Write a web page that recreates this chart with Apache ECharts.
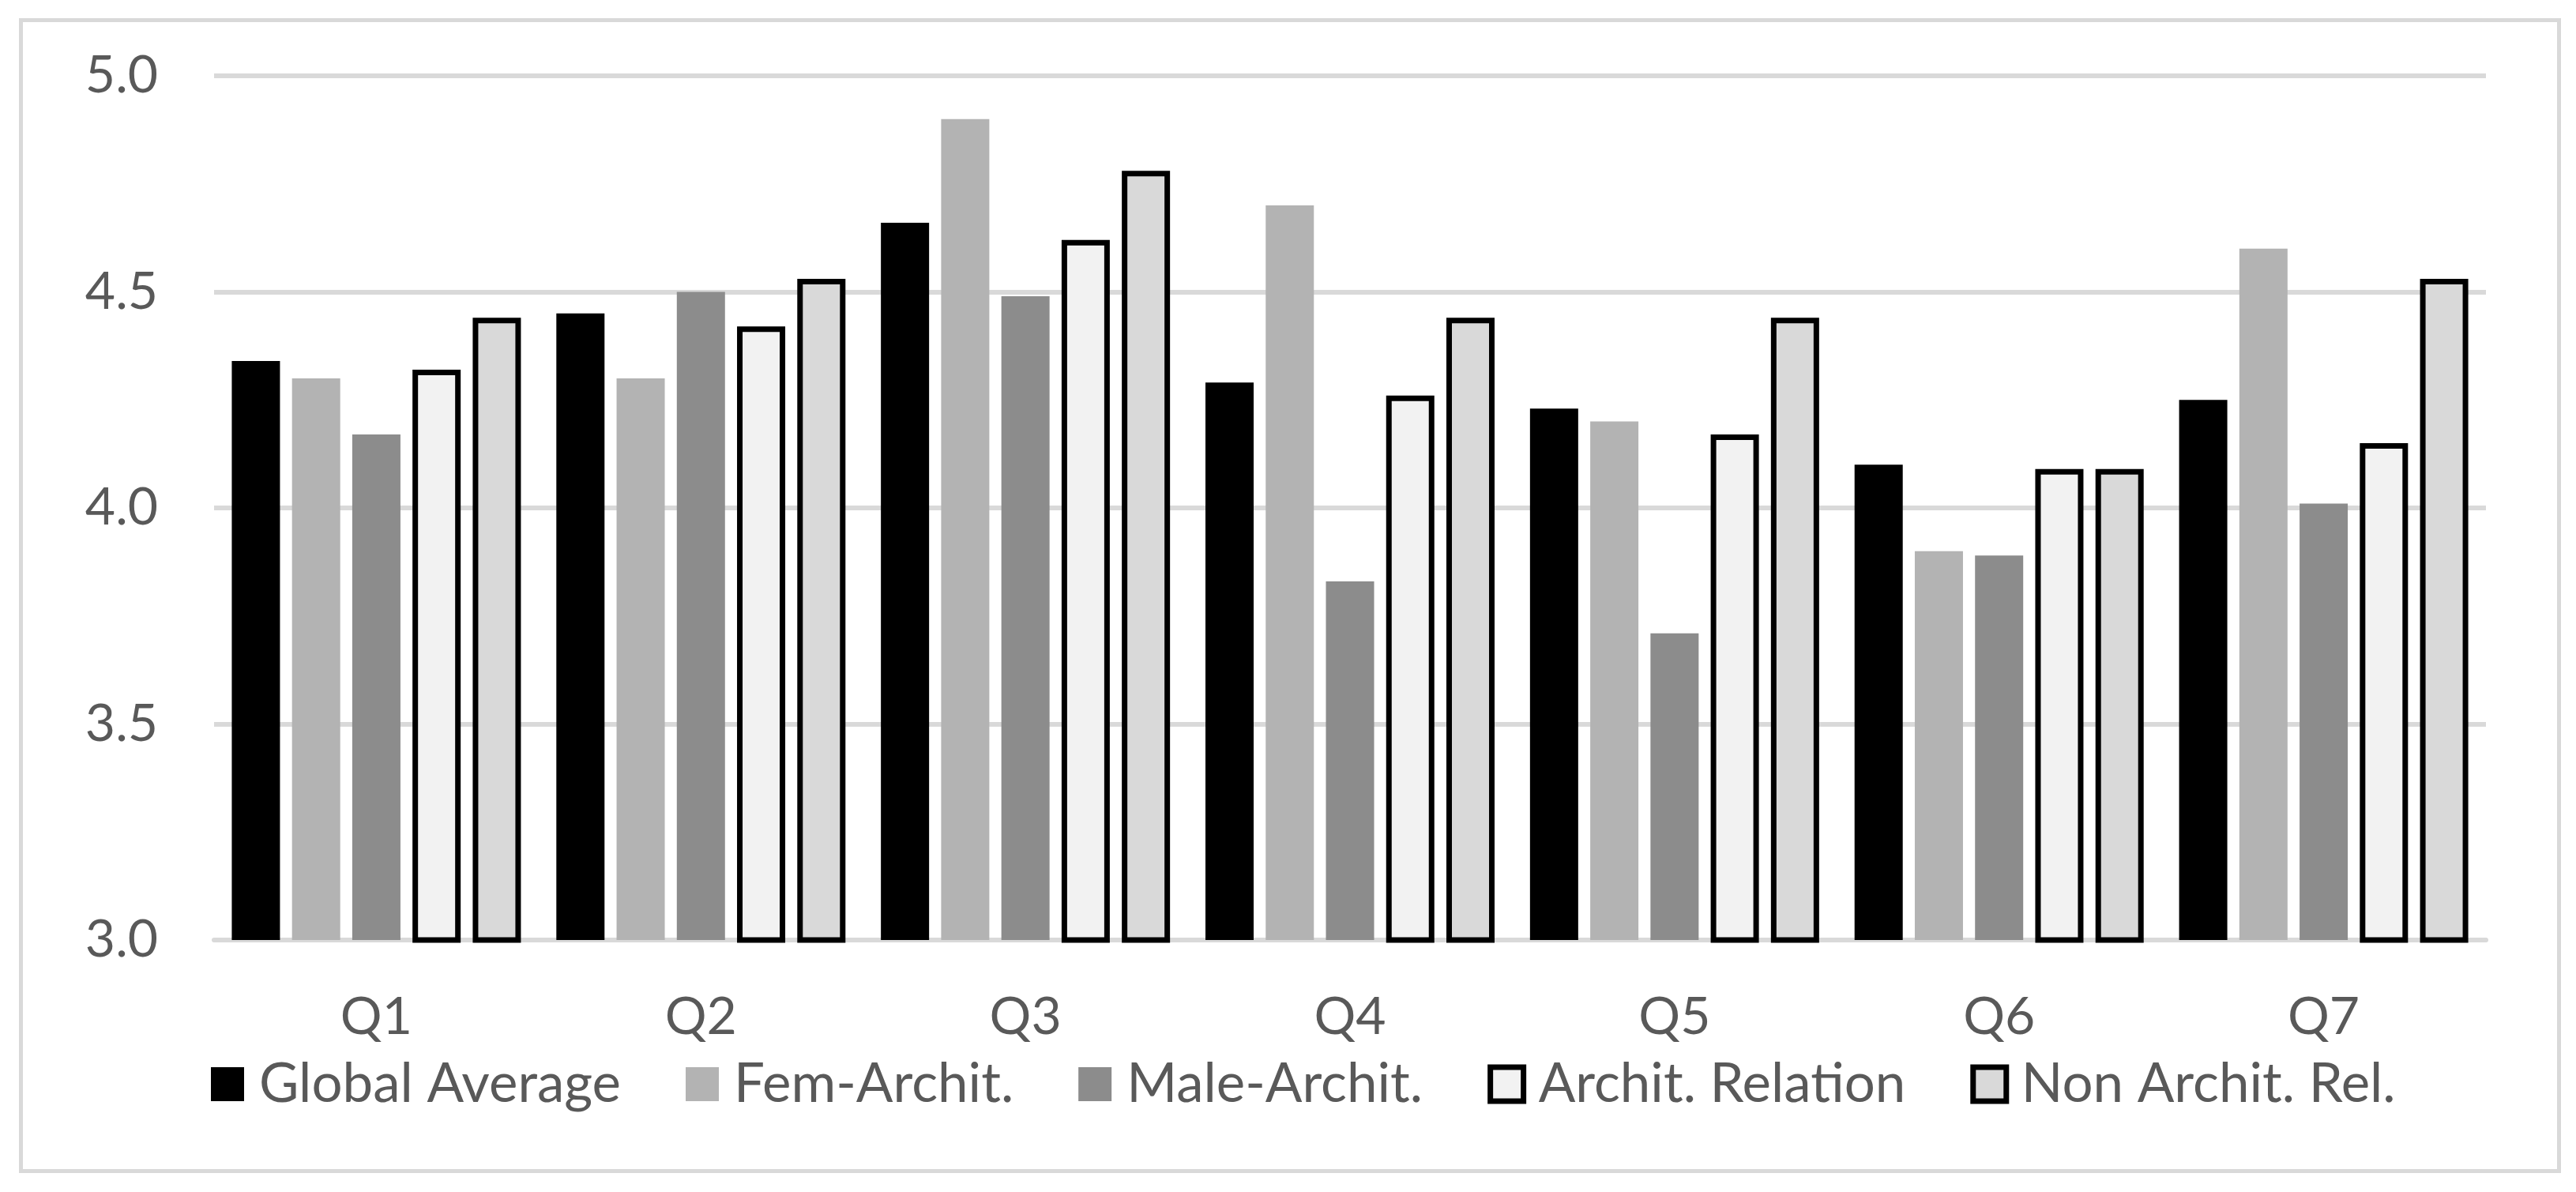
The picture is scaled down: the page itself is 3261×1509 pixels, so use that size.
<!DOCTYPE html>
<html>
<head>
<meta charset="utf-8">
<script src="https://cdn.jsdelivr.net/npm/echarts@6/dist/echarts.min.js"></script>
<style>
html,body{margin:0;padding:0;background:#fff;}
#chart{width:3261px;height:1509px;}
</style>
</head>
<body>
<div id="chart"></div>
<script>
const categories = ['Q1','Q2','Q3','Q4','Q5','Q6','Q7'];
const seriesNames = ['Global Average','Fem-Archit.','Male-Archit.','Archit. Relation','Non Archit. Rel.'];
const globalAverage = [4.34, 4.45, 4.66, 4.29, 4.23, 4.10, 4.25];
const femArchit = [4.30, 4.30, 4.90, 4.70, 4.20, 3.90, 4.60];
const maleArchit = [4.17, 4.50, 4.49, 3.83, 3.71, 3.89, 4.01];
const architRelation = [4.32, 4.42, 4.62, 4.26, 4.17, 4.09, 4.15];
const nonArchitRel = [4.44, 4.53, 4.78, 4.44, 4.44, 4.09, 4.53];
const yTicks = [3.0, 3.5, 4.0, 4.5, 5.0];

const FONT = 'Lato';
const TXT = '#595959';
const GRID = '#d9d9d9';

const styles = [
  {color:'#000000'},
  {color:'#b3b3b3'},
  {color:'#8c8c8c'},
  {color:'#f2f2f2', borderColor:'#000000', borderWidth:7},
  {color:'#d9d9d9', borderColor:'#000000', borderWidth:7}
];
const values = [globalAverage, femArchit, maleArchit, architRelation, nonArchitRel];

const chart = echarts.init(document.getElementById('chart'));
chart.setOption({
  animation:false,
  backgroundColor:'#ffffff',
  graphic:[{
    type:'rect', left:24, top:23, silent:true,
    shape:{x:0,y:0,width:3213,height:1457},
    style:{fill:'none', stroke:GRID, lineWidth:5}
  }],
  grid:{left:271, right:114, top:96, bottom:319, containLabel:false},
  legend:{
    data:seriesNames.map((n,i)=>({name:n, icon:'rect',
      itemStyle: styles[i].borderWidth ? {borderColor:'#000', borderWidth:7} : {borderWidth:0}})),
    left:267, top:1338, padding:0,
    itemWidth:42, itemHeight:43, itemGap:82,
    textStyle:{fontFamily:FONT, fontSize:69, color:TXT, padding:[0,0,0,14]}
  },
  xAxis:{
    type:'category', data:categories,
    axisLine:{show:true, lineStyle:{color:GRID, width:6}},
    axisTick:{show:false},
    axisLabel:{fontFamily:FONT, fontSize:66, color:TXT, margin:66, lineHeight:64}
  },
  yAxis:{
    type:'value', min:yTicks[0], max:yTicks[yTicks.length-1], interval:0.5,
    axisLine:{show:false}, axisTick:{show:false},
    splitLine:{lineStyle:{color:GRID, width:6}},
    axisLabel:{fontFamily:FONT, fontSize:66, color:TXT, margin:71, formatter:v=>v.toFixed(1)}
  },
  series: seriesNames.map((n,i)=>({
    name:n, type:'bar', data:values[i],
    barWidth:61, barGap:'25%',
    itemStyle:styles[i]
  }))
});
</script>
</body>
</html>
